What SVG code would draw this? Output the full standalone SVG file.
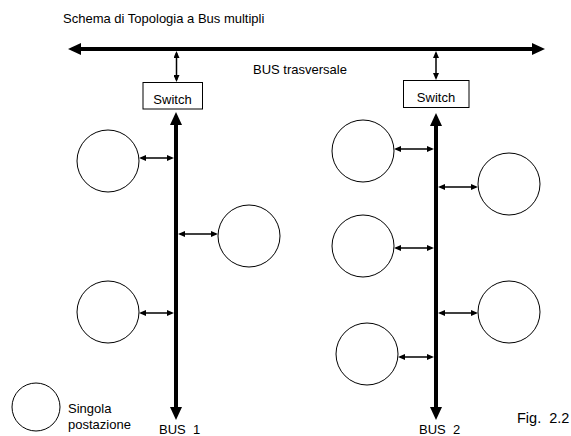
<svg xmlns="http://www.w3.org/2000/svg" width="571" height="436" viewBox="0 0 571 436">
  <style>
    .txt { font-family: "Liberation Sans", Arial, sans-serif; font-size: 13px; fill: #000; }
    .mid { text-anchor: middle; }
    .bus { stroke: #000; stroke-width: 4; fill: none; marker-start: url(#bigArrow); marker-end: url(#bigArrow); }
    .link { stroke: #000; stroke-width: 1.5; fill: none; marker-start: url(#smallArrow); marker-end: url(#smallArrow); }
    .station { fill: #fff; stroke: #000; stroke-width: 1; }
    .switch { fill: #fff; stroke: #000; stroke-width: 1; }
  </style>
  <defs>
    <marker id="bigArrow" viewBox="0 0 13 12" refX="3" refY="6" markerWidth="13" markerHeight="12" markerUnits="userSpaceOnUse" orient="auto-start-reverse">
      <path d="M0,0 L13,6 L0,12 z" fill="#000"/>
    </marker>
    <marker id="smallArrow" viewBox="0 0 7 6" refX="5" refY="3" markerWidth="7" markerHeight="6" markerUnits="userSpaceOnUse" orient="auto-start-reverse">
      <path d="M0,0 L7,3 L0,6 z" fill="#000"/>
    </marker>
  </defs>
  <rect width="571" height="436" fill="#fff"/>

  <text class="txt" x="63" y="23">Schema di Topologia a Bus multipli</text>

  <!-- buses and links -->
  <g id="connectors">
    <line class="bus" x1="78" y1="49" x2="535" y2="49"/>
    <line class="bus" x1="176" y1="122" x2="176" y2="410"/>
    <line class="bus" x1="436" y1="123" x2="436" y2="410"/>

    <line class="link" x1="176.5" y1="53" x2="176.5" y2="80"/>
    <line class="link" x1="436" y1="53" x2="436" y2="78"/>

    <line class="link" x1="141" y1="158" x2="172" y2="158"/>
    <line class="link" x1="180" y1="234" x2="216" y2="234"/>
    <line class="link" x1="141" y1="313" x2="172" y2="313"/>

    <line class="link" x1="396" y1="149" x2="432" y2="149"/>
    <line class="link" x1="440" y1="187" x2="476" y2="187"/>
    <line class="link" x1="396" y1="248" x2="432" y2="248"/>
    <line class="link" x1="440" y1="313" x2="476" y2="313"/>
    <line class="link" x1="400" y1="357" x2="432" y2="357"/>
  </g>

  <text class="txt" x="253" y="74">BUS trasversale</text>

  <g id="switch1">
    <rect class="switch" x="143" y="82.5" width="59.5" height="26.5"/>
    <text class="txt mid" x="172.5" y="104">Switch</text>
  </g>
  <g id="switch2">
    <rect class="switch" x="403.5" y="80.5" width="65.5" height="27"/>
    <text class="txt mid" x="436" y="102">Switch</text>
  </g>

  <!-- stations on BUS 1 -->
  <g id="station1-1"><circle class="station" cx="108" cy="161" r="31"/></g>
  <g id="station1-2"><circle class="station" cx="249" cy="236" r="31"/></g>
  <g id="station1-3"><circle class="station" cx="108" cy="312" r="31"/></g>

  <!-- stations on BUS 2 -->
  <g id="station2-1"><circle class="station" cx="363" cy="151" r="31"/></g>
  <g id="station2-2"><circle class="station" cx="509" cy="184" r="31"/></g>
  <g id="station2-3"><circle class="station" cx="363" cy="246" r="31"/></g>
  <g id="station2-4"><circle class="station" cx="509" cy="312" r="31"/></g>
  <g id="station2-5"><circle class="station" cx="367" cy="354" r="31"/></g>

  <!-- legend -->
  <g id="legend">
    <circle class="station" cx="36" cy="407" r="24"/>
    <text class="txt" x="68" y="413">Singola</text>
    <text class="txt" x="68" y="429">postazione</text>
  </g>

  <text class="txt" x="159" y="434" xml:space="preserve">BUS  1</text>
  <text class="txt" x="419" y="434" xml:space="preserve">BUS  2</text>
  <text class="txt" x="517" y="423" style="font-size:14.5px" xml:space="preserve">Fig.  2.2</text>
</svg>
